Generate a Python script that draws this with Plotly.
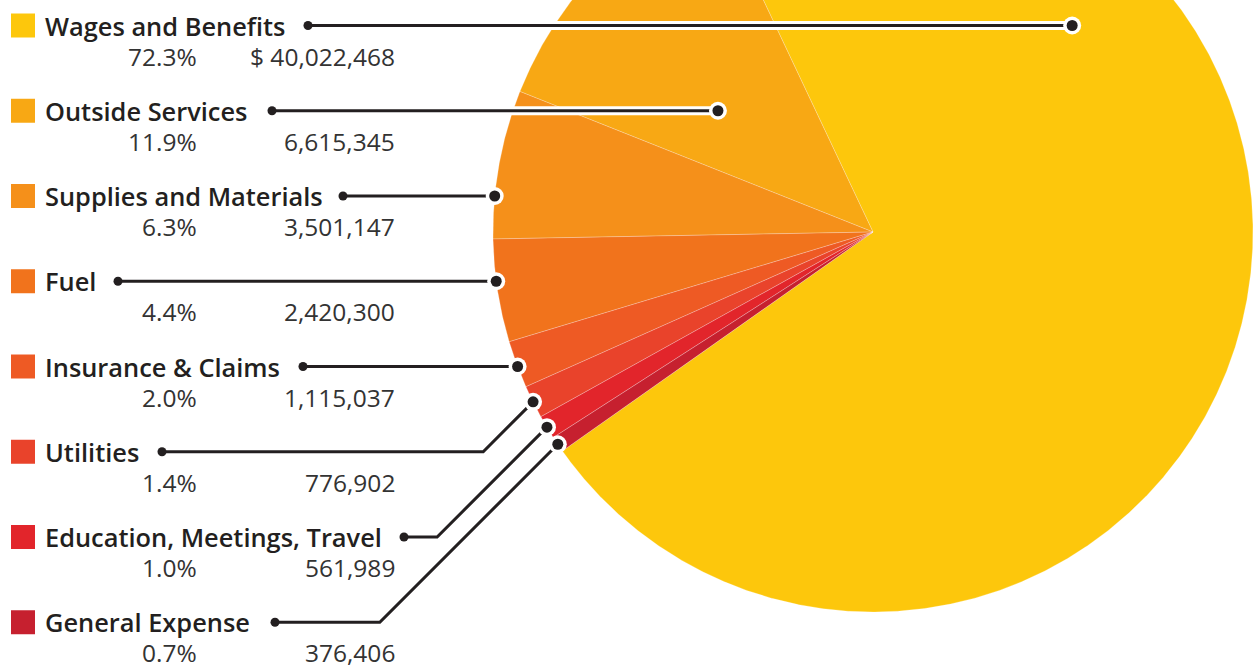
import numpy as np
import plotly.graph_objects as go

# ---------------- data ----------------
categories = ["Wages and Benefits", "Outside Services", "Supplies and Materials", "Fuel",
              "Insurance & Claims", "Utilities", "Education, Meetings, Travel", "General Expense"]
amounts = [40022468, 6615345, 3501147, 2420300, 1115037, 776902, 561989, 376406]
percent_labels = ["72.3%", "11.9%", "6.3%", "4.4%", "2.0%", "1.4%", "1.0%", "0.7%"]
amount_labels = ["$ 40,022,468", "6,615,345", "3,501,147", "2,420,300",
                 "1,115,037", "776,902", "561,989", "376,406"]

# ---------------- styles / layout ----------------
colors = ["#FDC70C", "#F8A814", "#F5901A", "#F1731C", "#EE5A24", "#E9432B", "#E2252B", "#C6202F"]
W, H = 1256, 670
CX, CY, R = 873, 232, 380          # pie centre and radius (pixel space)
ROTATION = -25.3                   # start angle, degrees clockwise from 12 o'clock
ROW0, ROW_STEP, VAL_OFFSET = 25.5, 85.25, 30.5
label_end_x = [308, 272, 343, 118, 303, 162, 404, 275]   # where each leader starts
# leader end: for straight leaders a radius fraction on the row's y; else slice mid-angle
leader_kind = ["row", "row", "row", "row", "row", "mid", "mid", "mid"]
leader_rfrac = [0.755, 0.518, 1.0, 1.0, 1.0, 1.0, 1.0, 1.0]
leader_side = [1, -1, -1, -1, -1, -1, -1, -1]
TEXT_FONT = "Open Sans"
LABEL_SIZE, VALUE_SIZE = 25.4, 24.5

vals = np.array(amounts, dtype=float)
span = vals / vals.sum() * 360.0
starts, ends = np.zeros(len(vals)), np.zeros(len(vals))
starts[0], ends[0] = ROTATION, ROTATION + span[0]
cur = ROTATION
for i in range(1, len(vals)):
    ends[i] = cur
    starts[i] = cur - span[i]
    cur = starts[i]


def polar(a_deg, r):
    a = np.radians(a_deg)
    return CX + r * np.sin(a), CY - r * np.cos(a)


fig = go.Figure()

# slices
for i in range(len(vals)):
    n = max(int(abs(ends[i] - starts[i]) * 4), 4)
    a = np.linspace(starts[i], ends[i], n)
    px, py = polar(a, R)
    xs = np.concatenate([[CX], px, [CX]])
    ys = np.concatenate([[CY], py, [CY]])
    fig.add_trace(go.Scatter(x=xs, y=ys, mode="lines", fill="toself",
                             fillcolor=colors[i],
                             line=dict(color="rgba(255,255,255,0.3)", width=0.8),
                             hoverinfo="skip", showlegend=False))

# leader geometry
rows_y = [ROW0 + i * ROW_STEP for i in range(len(categories))]
paths = []
end_pts = []
for i in range(len(categories)):
    y = rows_y[i]
    if leader_kind[i] == "row":
        rr = leader_rfrac[i] * R
        dx = np.sqrt(max(rr ** 2 - (y - CY) ** 2, 0))
        ex, ey = CX + leader_side[i] * dx, y
        px_ = [label_end_x[i], ex]
        py_ = [y, ey]
    else:
        mid = (starts[i] + ends[i]) / 2
        ex, ey = polar(mid, leader_rfrac[i] * R)
        elbow_x = ex - (y - ey)
        px_ = [label_end_x[i], elbow_x, ex]
        py_ = [y, y, ey]
    paths.append((px_, py_))
    end_pts.append((ex, ey))

for px_, py_ in paths:
    fig.add_trace(go.Scatter(x=px_, y=py_, mode="lines",
                             line=dict(color="white", width=9),
                             hoverinfo="skip", showlegend=False))
for px_, py_ in paths:
    fig.add_trace(go.Scatter(x=px_, y=py_, mode="lines",
                             line=dict(color="#231F20", width=3),
                             hoverinfo="skip", showlegend=False))

ex_all = [p[0] for p in end_pts]
ey_all = [p[1] for p in end_pts]
fig.add_trace(go.Scatter(x=ex_all, y=ey_all, mode="markers",
                         marker=dict(size=18, color="white"),
                         hoverinfo="skip", showlegend=False))
fig.add_trace(go.Scatter(x=ex_all, y=ey_all, mode="markers",
                         marker=dict(size=11, color="#231F20"),
                         hoverinfo="skip", showlegend=False))
fig.add_trace(go.Scatter(x=label_end_x, y=rows_y, mode="markers",
                         marker=dict(size=9, color="#231F20"),
                         hoverinfo="skip", showlegend=False))

# legend squares
fig.add_trace(go.Scatter(x=[23] * len(categories), y=rows_y, mode="markers",
                         marker=dict(symbol="square", size=24, color=colors,
                                     line=dict(width=0)),
                         hoverinfo="skip", showlegend=False))

annotations = []
for i, cat in enumerate(categories):
    y = rows_y[i]
    annotations.append(dict(x=43, y=y, xref="x", yref="y", text=cat, showarrow=False,
                            xanchor="left", yanchor="middle",
                            font=dict(family=TEXT_FONT, size=LABEL_SIZE, color="#231F20", weight=600)))
    annotations.append(dict(x=199, y=y + VAL_OFFSET, xref="x", yref="y", text=percent_labels[i],
                            showarrow=False, xanchor="right", yanchor="middle",
                            font=dict(family=TEXT_FONT, size=VALUE_SIZE, color="#333333")))
    annotations.append(dict(x=397, y=y + VAL_OFFSET, xref="x", yref="y", text=amount_labels[i],
                            showarrow=False, xanchor="right", yanchor="middle",
                            font=dict(family=TEXT_FONT, size=VALUE_SIZE, color="#333333")))

fig.update_layout(
    width=W, height=H,
    margin=dict(l=0, r=0, t=0, b=0),
    paper_bgcolor="white", plot_bgcolor="white",
    xaxis=dict(range=[0, W], visible=False, fixedrange=True),
    yaxis=dict(range=[H, 0], visible=False, fixedrange=True),
    annotations=annotations,
    showlegend=False,
)

fig.write_html("out.html")
